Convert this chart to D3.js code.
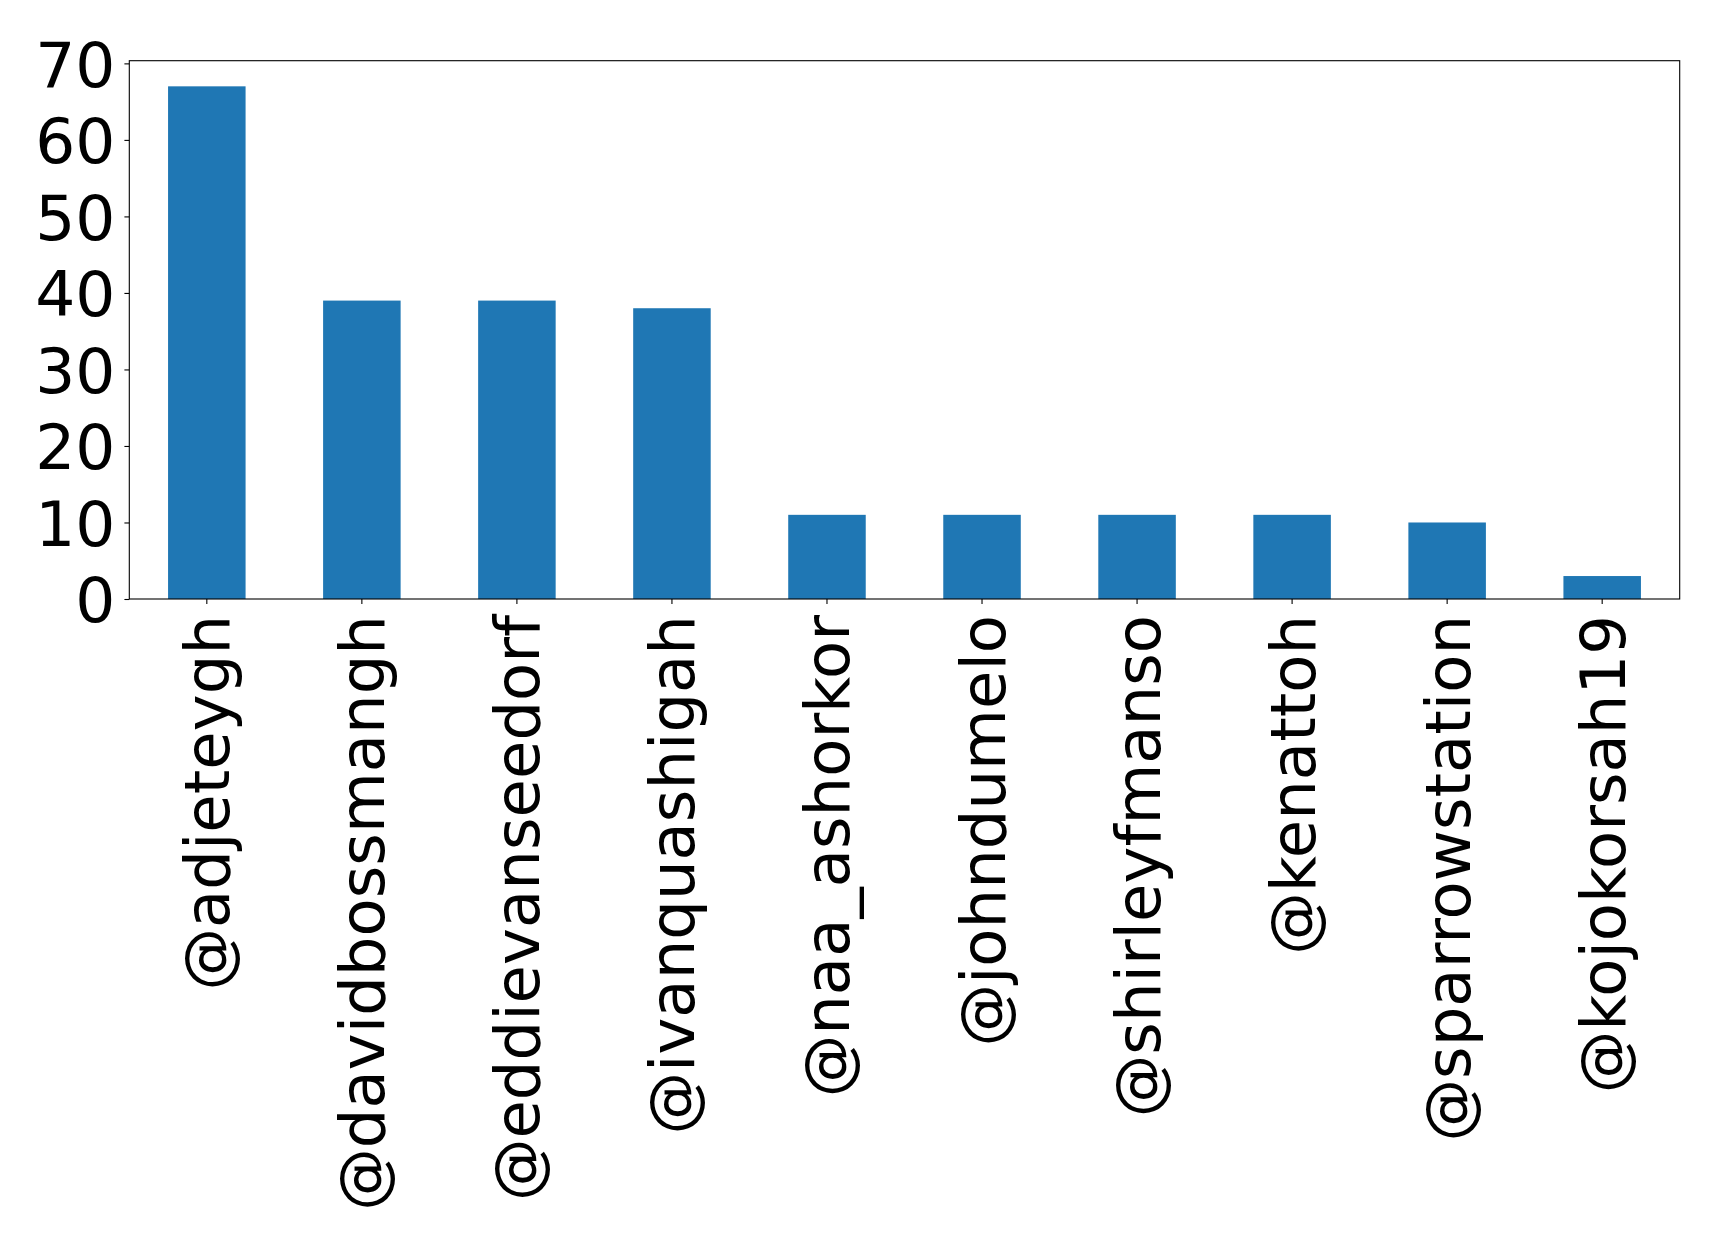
<!DOCTYPE html>
<html><head><meta charset="utf-8">
<script src="https://cdn.jsdelivr.net/npm/d3@7"></script>
<style>body{margin:0;background:#fff}svg{display:block}</style>
</head><body>
<script>
const categories = ["@adjeteygh","@davidbossmangh","@eddievanseedorf","@ivanquashigah","@naa_ashorkor","@johndumelo","@shirleyfmanso","@kenattoh","@sparrowstation","@kojokorsah19"];
const values = [67,39,39,38,11,11,11,11,10,3];
const yTicks = [0,10,20,30,40,50,60,70];

const W=1719,H=1244;
const m={left:129.3,right:1679.7,top:60.7,bottom:599};
const svg=d3.select("body").append("svg").attr("width",W).attr("height",H);
const x=d3.scaleBand().domain(categories).range([m.left,m.right]).paddingInner(0.5).paddingOuter(0.25);
const y=d3.scaleLinear().domain([0,70.35]).range([m.bottom,m.top]);

svg.selectAll("rect.bar").data(values).join("rect").attr("class","bar")
  .attr("x",(d,i)=>x(categories[i])).attr("width",x.bandwidth())
  .attr("y",d=>y(d)).attr("height",d=>y(0)-y(d)).attr("fill","#1f77b4");

const font="'DejaVu Sans', sans-serif";
const ya=svg.append("g").attr("transform",`translate(${m.left},0)`)
  .call(d3.axisLeft(y).tickValues(yTicks).tickSize(4.9).tickPadding(9).tickFormat(d3.format("d")));
ya.select(".domain").remove();
ya.selectAll("line").attr("stroke","#000").attr("stroke-width",1.1);
ya.selectAll("text").attr("font-family",font).attr("font-size",63).attr("fill","#000").attr("dy","0.36em");

const xa=svg.append("g").attr("transform",`translate(0,${m.bottom})`)
  .call(d3.axisBottom(x).tickSize(4.9).tickPadding(0));
xa.select(".domain").remove();
xa.selectAll("line").attr("stroke","#000").attr("stroke-width",1.1);
xa.selectAll("text").attr("font-family",font).attr("font-size",62.5).attr("fill","#000")
  .attr("text-anchor","end").attr("transform","translate(0,16) rotate(-90)")
  .attr("x",0).attr("y",0).attr("dy","0.36em");

svg.append("rect").attr("x",m.left).attr("y",m.top).attr("width",m.right-m.left).attr("height",m.bottom-m.top)
  .attr("fill","none").attr("stroke","#000").attr("stroke-width",1.1);
</script>
</body></html>
